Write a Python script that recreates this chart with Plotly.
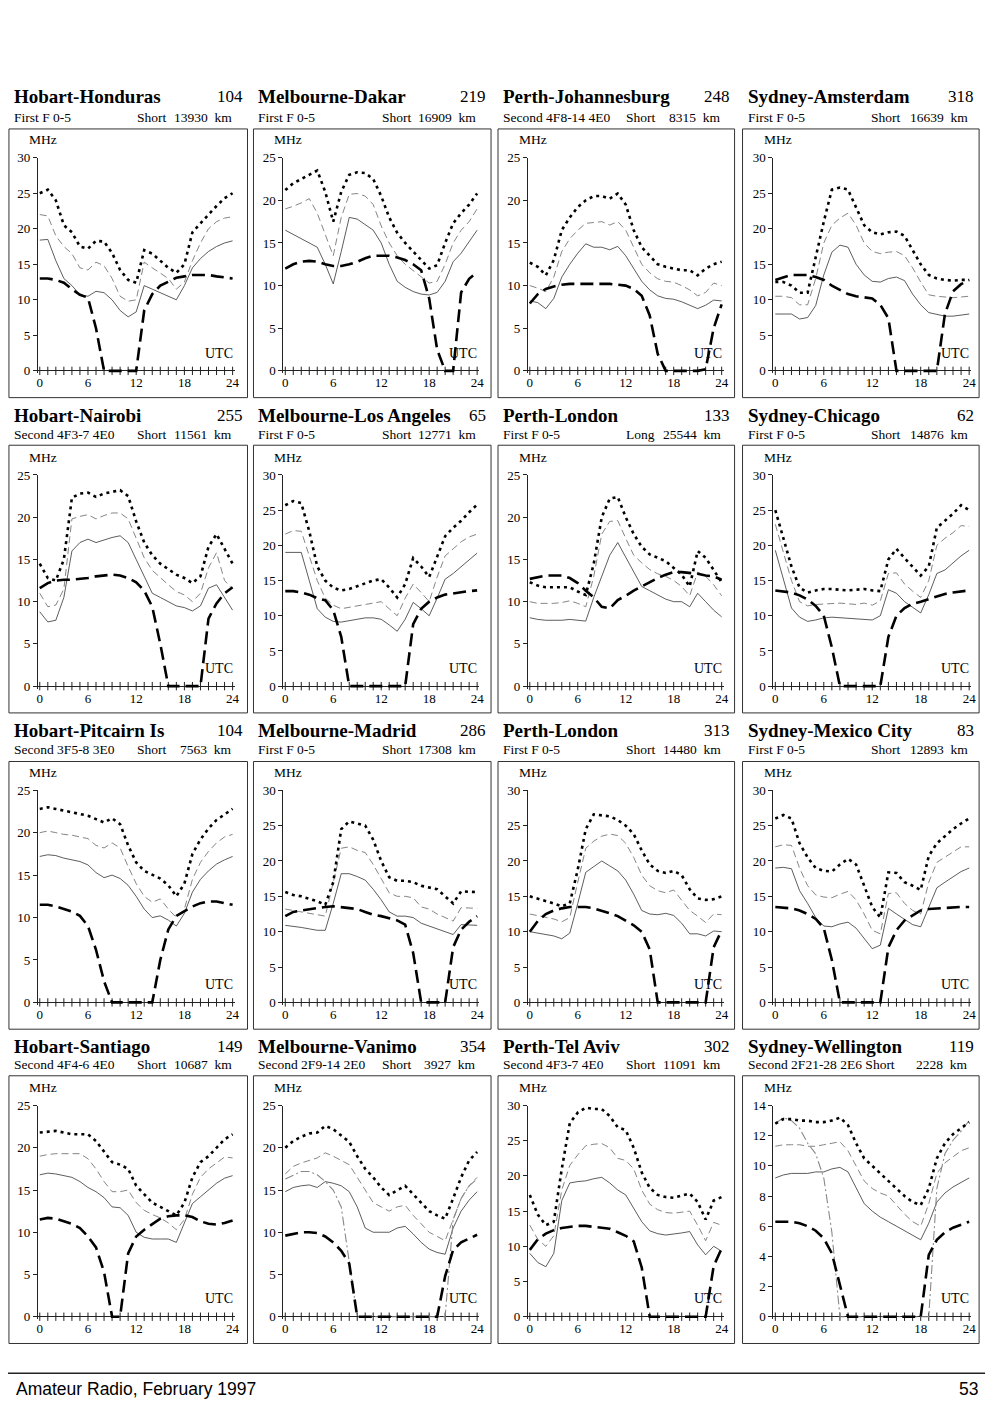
import plotly.graph_objects as go

W, H = 1000, 1405

hours = list(range(25))

# panel headings, row by row
titles = ["Hobart-Honduras", "Melbourne-Dakar", "Perth-Johannesburg", "Sydney-Amsterdam",
          "Hobart-Nairobi", "Melbourne-Los Angeles", "Perth-London", "Sydney-Chicago",
          "Hobart-Pitcairn Is", "Melbourne-Madrid", "Perth-London", "Sydney-Mexico City",
          "Hobart-Santiago", "Melbourne-Vanimo", "Perth-Tel Aviv", "Sydney-Wellington"]
bearings = [104, 219, 248, 318, 255, 65, 133, 62, 104, 286, 313, 83, 149, 354, 302, 119]
modes = ["First F 0-5", "First F 0-5", "Second 4F8-14 4E0", "First F 0-5",
         "Second 4F3-7 4E0", "First F 0-5", "First F 0-5", "First F 0-5",
         "Second 3F5-8 3E0", "First F 0-5", "First F 0-5", "First F 0-5",
         "Second 4F4-6 4E0", "Second 2F9-14 2E0", "Second 4F3-7 4E0", "Second 2F21-28 2E6"]
paths = ["Short", "Short", "Short", "Short", "Short", "Short", "Long", "Short",
         "Short", "Short", "Short", "Short", "Short", "Short", "Short", "Short"]
dists = [13930, 16909, 8315, 16639, 11561, 12771, 25544, 14876,
         7563, 17308, 14480, 12893, 10687, 3927, 11091, 2228]
ymax = [30, 25, 25, 30, 25, 30, 25, 30, 25, 30, 30, 30, 25, 25, 30, 14]
ystep = [5, 5, 5, 5, 5, 5, 5, 5, 5, 5, 5, 5, 5, 5, 5, 2]

# dotted curve (highest frequency), MHz at 0..24 UTC
upper = [
    [25, 25.5, 24, 20.5, 19.5, 17.5, 17.2, 18.3, 18.2, 16.6, 14.2, 12.8, 12.4, 17, 16.5, 15.5, 14.5, 13.8, 15, 19.5, 20.8, 22, 23.2, 24.3, 25],
    [21.2, 22, 22.5, 23, 23.5, 21, 17.5, 21, 23, 23.3, 23.2, 22.5, 20.5, 18, 16.2, 15, 14, 13, 12, 12.4, 15, 17.3, 18.5, 19.5, 20.8],
    [12.7, 12.2, 11.2, 13, 16.5, 18, 19.2, 20, 20.5, 20.5, 20.2, 20.8, 19.5, 16.5, 14.5, 13.5, 12.5, 12.2, 12, 11.8, 11.8, 11.2, 12, 12.5, 12.8],
    [12.5, 12.5, 12, 11, 11, 16, 21, 25.5, 25.8, 25.5, 23, 20.5, 19.5, 19.2, 19.5, 19.6, 19, 17, 15, 13.5, 13, 12.8, 12.7, 12.8, 12.8],
    [14.5, 12.8, 12.5, 15, 22.3, 22.8, 22.9, 22.4, 22.8, 23, 23.2, 22.5, 19.5, 17, 15.5, 14.5, 13.8, 13.2, 12.8, 12.2, 13, 16.5, 18, 16.2, 14.5],
    [25.7, 26.3, 26, 22, 17, 15, 14, 13.6, 13.8, 14.2, 14.5, 15, 15.2, 14, 12.6, 14.5, 18.2, 17, 15.5, 18.5, 21.3, 22.5, 23.5, 24.7, 25.8],
    [12.3, 11.9, 11.7, 11.7, 11.7, 11.7, 11.2, 10.8, 14.5, 20, 22.2, 22.4, 20, 18, 16.5, 15.6, 15.2, 14.8, 14, 13.2, 11.8, 16, 15.2, 13.8, 12.3],
    [25, 21, 17, 14, 13.3, 13.6, 13.8, 13.8, 13.7, 13.6, 13.7, 13.8, 13.6, 13.5, 18, 19.5, 18.2, 17, 15.7, 17, 22.5, 23.5, 24.5, 25.7, 25],
    [22.8, 23, 22.8, 22.6, 22.4, 22.2, 22, 21.6, 21.2, 21.7, 21, 18.5, 16.5, 15.5, 15, 14.6, 13.8, 12.5, 14, 17.5, 19.2, 20.5, 21.5, 22.2, 22.8],
    [15.6, 15.2, 15, 14.7, 14.3, 13.8, 17, 24.5, 25.6, 25.3, 25, 23, 20, 17.7, 17.2, 17.2, 17, 16.5, 16.2, 16, 15, 14, 15.7, 15.7, 15.6],
    [15, 14.7, 14.3, 14, 13.6, 14, 18.8, 24.5, 26.6, 26.5, 26.3, 25.8, 25, 23.8, 21.5, 19.5, 18.6, 18.3, 18.6, 18, 16, 14.7, 14.5, 14.6, 15],
    [26, 26.5, 26, 22.5, 20.5, 19, 18.6, 18.5, 19.5, 20.3, 19.5, 16.5, 13.5, 12, 18.4, 18.3, 17, 16.5, 15.9, 20.7, 22.5, 23.5, 24.5, 25.3, 26],
    [21.8, 21.9, 22, 21.8, 21.6, 21.6, 21.6, 20.8, 19.5, 18.3, 18, 17.5, 15.5, 14.5, 13.5, 13, 12.5, 12, 13.5, 16.5, 18.3, 19, 20, 21, 21.6],
    [20, 20.8, 21.3, 21.7, 21.8, 22.6, 22.2, 21.5, 20.7, 19, 17.5, 16.5, 15.3, 14.4, 15, 15.5, 14.5, 13.5, 12.5, 12, 11.6, 14, 16.5, 18.5, 19.5],
    [17.3, 14.5, 13, 13.5, 21, 27.5, 29, 29.7, 29.5, 29.5, 28.5, 26.9, 26.5, 24, 20.5, 18.3, 17.3, 17, 16.9, 17.2, 17.5, 16.3, 13.8, 16.5, 17],
    [12.8, 13.1, 13.1, 13, 13, 12.9, 12.9, 13, 13.2, 12.7, 11.5, 10.5, 10, 9.5, 9, 8.5, 8, 7.6, 7.4, 8.5, 10.5, 11.5, 12.1, 12.5, 12.9],
]

# thin dashed curve
median = [
    [22, 21.8, 19, 17.5, 16.5, 14.5, 14.2, 15.3, 14.8, 13, 10.5, 9.8, 10, 15.3, 14.5, 13.8, 13, 11.5, 12.5, 15.5, 18, 20, 21, 21.5, 21.7],
    [19, 19.3, 19.7, 20.2, 18.5, 16, 13.5, 18, 20.7, 20.8, 20.5, 19.5, 17, 15, 13.5, 12.5, 11.8, 11, 10.3, 10.5, 12.5, 15, 16.5, 17.5, 19],
    [10, 9.7, 9.3, 11, 14, 15.5, 16.5, 17.3, 17.4, 17.5, 17.1, 17.5, 16.5, 14.5, 12.5, 11.5, 10.8, 10.5, 10.4, 10, 9.5, 8.8, 9.2, 10.3, 10],
    [10.5, 10.5, 10.3, 9.3, 9.3, 13, 18, 20.5, 21.5, 22.2, 20.5, 18, 16.8, 16.5, 16.7, 16.8, 16.2, 14.5, 12.5, 10.7, 10.5, 10.4, 10.3, 10.4, 10.5],
    [11, 9.4, 9.6, 11.5, 19.8, 20.1, 20.3, 19.8, 20.2, 20.5, 20.5, 19.8, 17.5, 15.2, 13.7, 12.8, 12, 11.2, 10.8, 10, 11, 14, 15.8, 12.5, 11.5],
    [21.6, 22.1, 22, 18.5, 15, 12.5, 11.5, 11, 11.2, 11.3, 11.5, 11.8, 12, 11, 10, 12.5, 14.5, 13.3, 12, 15.5, 18.5, 19.5, 20.5, 21.2, 21.6],
    [10, 9.8, 9.8, 9.8, 9.9, 10.1, 9.8, 9.4, 13, 18, 19.5, 19.6, 17.5, 15.5, 14.6, 13.8, 13.3, 13, 12.5, 11.8, 10.7, 13.5, 13, 12, 10.7],
    [23, 19, 15, 12, 11.4, 11.6, 11.7, 11.8, 11.8, 11.7, 11.6, 11.8, 11.5, 12.1, 16, 16.1, 14.5, 13.5, 12.6, 15, 20, 21, 21.8, 22.8, 22.7],
    [20, 20.2, 20, 19.8, 19.7, 19.5, 19.3, 18.5, 18.2, 18.8, 18.2, 16, 14, 12.5, 11.8, 12.2, 11, 10, 11, 14.5, 16.5, 17.8, 18.8, 19.5, 19.8],
    [13.2, 13, 12.8, 12.6, 12.5, 12.2, 17, 21.8, 22, 21.5, 21.2, 19.5, 17.5, 15.5, 15, 15, 14.8, 13.5, 13.2, 12.5, 12, 11.5, 13.4, 13.3, 13.3],
    [12.5, 12.3, 12.1, 11.8, 11.4, 12, 17, 21.8, 22.8, 23.5, 23.8, 23.6, 22.5, 20.5, 18, 16.5, 15.8, 15.5, 15.9, 14.5, 13, 12.2, 11.3, 12.5, 12.4],
    [22, 22.3, 22.2, 19, 16.5, 15.2, 14.9, 14.8, 15.3, 15.7, 14.5, 12.5, 10.2, 9.7, 15.4, 15.5, 14, 13, 12.5, 17, 19.8, 20.5, 21.2, 22, 22],
    [19, 19.2, 19.3, 19.3, 19.3, 19.3, 18.7, 17.5, 16, 14.8, 14.8, 15, 13.5, 12.6, 12.1, 11.7, 11.1, 10.3, 11.5, 14.5, 16.5, 17.5, 18.2, 18.9, 18.8],
    [16.9, 17.8, 18.2, 18.5, 18.8, 19.4, 19, 18.5, 18, 16.5, 15, 13.5, 13, 12.5, 13, 13.2, 12, 11, 10, 9.5, 9, 11.5, 14, 15.5, 16.5],
    [13, 11, 10, 11.5, 18, 21.5, 23, 24.3, 24.5, 24.6, 24, 22.5, 22.2, 21, 18, 16, 15.2, 14.8, 14.7, 14.8, 15, 13, 10.8, 13.4, 13],
    [11.3, 11.4, 11.4, 11.4, 11.3, 11.3, 11.4, 11.5, 11.6, 11, 10, 9, 8.5, 8.2, 8, 7.4, 6.8, 6.3, 6, 7.5, 9.5, 10.2, 10.6, 11, 11.2],
]

# thin solid curve
lower = [
    [18.4, 18.5, 15.5, 13, 12, 10.7, 10.5, 11.2, 11, 10, 8.5, 7.6, 8.3, 12, 11.5, 11, 10.5, 10, 12, 14.5, 15.8, 16.8, 17.5, 18, 18.3],
    [16.5, 16, 15.5, 15, 14.5, 12.5, 10.2, 14, 18, 17.8, 17.2, 16.5, 15, 12.5, 10.5, 9.8, 9.3, 9, 8.9, 9.2, 10.5, 12.8, 13.8, 15.2, 16.5],
    [8.2, 8, 7.3, 8.5, 11, 12.5, 13.8, 14.9, 14.5, 14.5, 14.2, 14.6, 13.5, 12, 10.5, 9.5, 8.8, 8.5, 8.4, 8.1, 7.7, 7.3, 7.7, 8.3, 8.2],
    [8, 8, 8, 7.3, 7.5, 9.2, 13.5, 16.7, 17.7, 17.4, 15, 13.5, 12.6, 12.5, 13, 13.2, 12.7, 10.8, 9.3, 8.2, 7.9, 7.7, 7.7, 7.8, 8],
    [8.8, 7.6, 7.8, 10.5, 16, 17, 17.4, 17, 17.3, 17.6, 17.8, 17, 15, 13, 11, 10.5, 10, 9.5, 9.3, 8.9, 9.5, 11.6, 12, 10.5, 9],
    [19, 19, 19, 15, 11, 9.8, 9.2, 9.1, 9.3, 9.5, 9.7, 9.7, 9.5, 8.7, 7.8, 9.5, 11.9, 11, 10, 12.5, 15.2, 16, 17, 18, 18.9],
    [8.1, 7.9, 7.8, 7.8, 7.8, 7.9, 7.8, 7.7, 10.5, 13, 15.5, 17, 15.3, 13.5, 11.8, 11.3, 10.8, 10.3, 10, 10, 9.4, 11, 10, 9, 8.2],
    [19.3, 15, 11.1, 9.8, 9.2, 9.4, 9.7, 9.8, 9.7, 9.6, 9.6, 9.5, 9.4, 10, 13.7, 13.2, 12, 11.2, 10.4, 13, 16, 16.5, 17.5, 18.5, 19.3],
    [17.2, 17.4, 17.3, 17, 16.8, 16.6, 16.2, 15.3, 14.7, 15, 14.6, 13.8, 12.5, 11, 10, 10.2, 9.7, 9, 10.5, 13, 14.5, 15.5, 16.3, 16.8, 17.2],
    [10.9, 10.8, 10.6, 10.4, 10.2, 10.2, 14, 18.2, 18.2, 17.8, 17.3, 16, 14.5, 12.8, 12.2, 12.2, 12, 11.2, 10.8, 10.3, 10, 9.6, 11, 11, 10.9],
    [10, 9.8, 9.6, 9.4, 9, 9.8, 14, 18.4, 19.2, 20, 19.3, 18.6, 17.3, 15.3, 13, 12.5, 12.4, 12.6, 12.3, 11.2, 9.7, 9.7, 9.4, 10.1, 10],
    [19, 19.1, 18.9, 15.8, 14, 12, 10.8, 10.7, 11.1, 11.35, 10.5, 9, 7.6, 8.1, 13.3, 12.5, 11.8, 11, 10.7, 13.5, 16.2, 17, 17.8, 18.5, 19],
    [16.8, 17, 16.9, 16.7, 16.5, 16, 15.3, 14.8, 14.1, 13, 12.9, 12, 10, 9.4, 9.2, 9.2, 9.2, 8.8, 11, 13.4, 14.2, 15, 15.8, 16.4, 16.7],
    [14.8, 15.3, 15.5, 15.6, 15.3, 16, 15.8, 15.5, 14.8, 13, 10.5, 10, 10, 10, 10.5, 10.7, 9.8, 8.8, 8, 7.6, 7.4, 10.5, 12.5, 13.8, 14.8],
    [9, 7.7, 7.1, 9, 16.5, 19, 19.2, 19.3, 19.6, 19.8, 19, 18, 17.3, 15.5, 13.5, 12.2, 11.8, 11.6, 11.7, 11.9, 12.1, 10.2, 8.8, 10, 9.3],
    [9.2, 9.4, 9.5, 9.5, 9.5, 9.6, 9.6, 9.8, 9.9, 9.6, 8.5, 7.5, 7, 6.6, 6.3, 6, 5.7, 5.4, 5.1, 6.2, 7.6, 8.2, 8.6, 8.9, 9.2],
]

# heavy dashed curve (lowest usable frequency)
luf = [
    [13, 13, 12.8, 12.4, 11.5, 10.7, 10.3, 6, 0, 0, 0, 0, 0, 8.5, 10.8, 12, 12.6, 13.1, 13.3, 13.5, 13.5, 13.5, 13.3, 13.2, 13],
    [12, 12.5, 12.8, 12.9, 12.8, 12.5, 12.3, 12.3, 12.5, 12.8, 13.2, 13.5, 13.5, 13.5, 13.3, 13, 12.5, 11.8, 8.5, 2.5, 0, 0, 9.2, 10.8, 11.6],
    [7.9, 9, 9.6, 9.9, 10.1, 10.2, 10.2, 10.2, 10.2, 10.2, 10.2, 10.1, 10, 9.6, 8.8, 6.5, 2, 0, 0, 0, 0, 0, 0.2, 5, 7.8],
    [12.8, 13.2, 13.5, 13.5, 13.5, 13.2, 12.8, 12, 11.4, 10.8, 10.5, 10.4, 10.2, 9.3, 7.4, 0, 0, 0, 0, 0, 0, 8, 11.2, 12.2, 12.8],
    [11.6, 12.2, 12.5, 12.6, 12.6, 12.7, 12.8, 13, 13.1, 13.2, 13.1, 12.8, 12.3, 11.3, 9.4, 5, 0, 0, 0, 0, 0, 8, 9.8, 11, 11.7],
    [13.5, 13.5, 13.3, 13, 12.5, 12.2, 10.8, 7, 0, 0, 0, 0, 0, 0, 0, 0, 8.8, 11, 12, 12.6, 13, 13.2, 13.4, 13.5, 13.6],
    [12.7, 12.9, 13.1, 13.1, 13.1, 12.8, 12.2, 11.3, 10.5, 9.4, 9.2, 10.2, 10.7, 11.3, 11.8, 12.4, 12.8, 13.2, 13.5, 13.5, 13.4, 13.3, 13.1, 13, 12.6],
    [13.6, 13.5, 13.3, 12.9, 12.3, 11.4, 10, 5.5, 0, 0, 0, 0, 0, 0, 7, 10, 11.1, 11.7, 12, 12.4, 12.8, 13.1, 13.3, 13.5, 13.6],
    [11.5, 11.5, 11.3, 11, 10.7, 10.2, 9, 6.2, 2.5, 0, 0, 0, 0, 0, 0, 5, 8.6, 10.2, 10.8, 11.3, 11.7, 11.9, 11.9, 11.7, 11.5],
    [12.2, 12.8, 13, 13.2, 13.4, 13.5, 13.6, 13.5, 13.3, 13.2, 12.8, 12.4, 12.2, 11.9, 11.6, 11, 7, 0, 0, 0, 0, 7.8, 10.3, 11.4, 12.2],
    [10, 11.5, 12.5, 13, 13.3, 13.5, 13.5, 13.5, 13.3, 13, 12.6, 12.2, 11.5, 10.9, 10, 7.5, 0, 0, 0, 0, 0, 0, 0, 7.8, 10.2],
    [13.5, 13.4, 13.3, 13, 12.5, 11.8, 10.5, 6, 0, 0, 0, 0, 0, 0, 7.8, 10.2, 11.6, 12.3, 13, 13.2, 13.3, 13.4, 13.5, 13.5, 13.5],
    [11.5, 11.7, 11.6, 11.3, 11, 10.5, 9.5, 8.2, 5.3, 0, 0, 7.5, 9.5, 10.3, 11, 11.6, 11.9, 12, 12, 11.8, 11.3, 11, 10.9, 11.1, 11.4],
    [9.6, 9.8, 10, 10, 9.9, 9.5, 8.8, 7.8, 6.3, 0, 0, 0, 0, 0, 0, 0, 0, 0, 0, 0, 4.8, 7.9, 8.8, 9.3, 9.7],
    [9.5, 11, 11.8, 12.3, 12.6, 12.8, 12.9, 12.9, 12.8, 12.7, 12.5, 12, 11.5, 10.7, 7, 0, 0, 0, 0, 0, 0, 0, 0, 7.2, 9.7],
    [6.3, 6.3, 6.3, 6.2, 6, 5.7, 5.2, 4.2, 2, 0, 0, 0, 0, 0, 0, 0, 0, 0, 0, 4.1, 5.1, 5.6, 5.9, 6.1, 6.3],
]

# grey dash-dot curve, only on the two short paths
vanimo_e = [16.3, 16.8, 17.2, 17.2, 16.8, 16, 15, 13, 6.5, 0, 0, 0, 0, 0, 0, 0, 0, 0, 0, 0, 0, 11.5, 14, 15.5, 16.3]
wellington_e = [12.8, 13.2, 13, 12.5, 11.5, 10.8, 9.2, 5.6, 0, 0, 0, 0, 0, 0, 0, 0, 0, 0, 0, 0, 8.5, 10.8, 11.7, 12.3, 13]
extra = {13: vanimo_e, 15: wellington_e}

# page geometry (pixels)
x0_px = [39, 286, 532, 779]
x24_px = [233, 479, 725, 974]
box_l = [8, 254, 500, 746]
box_r = [248, 493, 738, 984]
ytop_px = [152, 472, 790, 1108]
y0_px = [367, 685, 1004, 1321]
box_t = [123, 442, 761, 1078]
box_b = [394, 712, 1031, 1348]
title_y = [90, 412, 730, 1048]
sub_y = [111, 431, 749, 1067]

SERIF = "Liberation Serif, Times New Roman, serif"


def px(x):
    return x / W


def py(y):
    return 1 - y / H


fig = go.Figure()
layout = dict(width=W, height=H, margin=dict(l=0, r=0, t=0, b=0),
              paper_bgcolor="white", plot_bgcolor="white", showlegend=False,
              autosize=False)
shapes = []
ann = []

for i in range(16):
    r, c = divmod(i, 4)
    sfx = "" if i == 0 else str(i + 1)
    xa, ya = "x" + sfx, "y" + sfx

    xpad = 0.25
    hpx = (x24_px[c] - x0_px[c]) / 24
    dom_x = [px(x0_px[c] - xpad * hpx), px(x24_px[c] + xpad * hpx)]
    ypad = ymax[i] * 0.012
    vpx = (y0_px[r] - ytop_px[r]) / ymax[i]
    dom_y = [py(y0_px[r] + ypad * vpx), py(ytop_px[r])]

    layout["xaxis" + sfx] = dict(
        domain=dom_x, range=[-xpad, 24 + xpad], anchor=ya,
        tickvals=[0, 6, 12, 18, 24], ticks="",
        showline=False, showgrid=False, zeroline=False,
        tickfont=dict(family=SERIF, size=13, color="black"), fixedrange=True)
    layout["yaxis" + sfx] = dict(
        domain=dom_y, range=[-ypad, ymax[i]], anchor=xa,
        tickvals=list(range(0, ymax[i] + 1, ystep[i])), ticks="outside", ticklen=4,
        tickwidth=1, tickcolor="#222", showline=True, linecolor="#222", linewidth=1,
        showgrid=False, zeroline=True, zerolinecolor="#222", zerolinewidth=1,
        tickfont=dict(family=SERIF, size=13, color="black"), fixedrange=True)

    # hour crosses along the time axis
    fig.add_trace(go.Scatter(x=hours, y=[0] * len(hours), xaxis=xa, yaxis=ya,
                             mode="markers", cliponaxis=False, hoverinfo="skip",
                             marker=dict(symbol="line-ns", size=6,
                                         line=dict(width=1, color="#222"))))

    fig.add_trace(go.Scatter(x=hours, y=lower[i], xaxis=xa, yaxis=ya, mode="lines",
                             line=dict(color="#333", width=0.8)))
    fig.add_trace(go.Scatter(x=hours, y=median[i], xaxis=xa, yaxis=ya, mode="lines",
                             line=dict(color="#777", width=0.9, dash="7px,4px")))
    if i in extra:
        fig.add_trace(go.Scatter(x=hours, y=extra[i], xaxis=xa, yaxis=ya, mode="lines",
                                 line=dict(color="#888", width=1.1,
                                           dash="9px,3px,2px,3px")))
    fig.add_trace(go.Scatter(x=hours, y=upper[i], xaxis=xa, yaxis=ya, mode="lines",
                             line=dict(color="black", width=2.6, dash="3px,4px")))
    fig.add_trace(go.Scatter(x=hours, y=luf[i], xaxis=xa, yaxis=ya, mode="lines",
                             line=dict(color="black", width=2.6, dash="13px,6px")))

    shapes.append(dict(type="rect", xref="paper", yref="paper",
                       x0=px(box_l[c]), x1=px(box_r[c]), y0=py(box_b[r]), y1=py(box_t[r]),
                       line=dict(color="#333", width=1)))

    tl = box_l[c] + 3
    ann.append(dict(text="<b>%s</b>" % titles[i], x=px(tl), y=py(title_y[r]),
                    xanchor="left", yanchor="middle",
                    font=dict(family=SERIF, size=19, color="black")))
    ann.append(dict(text=str(bearings[i]), x=px(box_r[c] - 3), y=py(title_y[r]),
                    xanchor="right", yanchor="middle",
                    font=dict(family=SERIF, size=17, color="black")))
    if len(modes[i]) > 17:
        # long mode string: the path word simply follows it
        ann.append(dict(text=modes[i] + " " + paths[i], x=px(tl), y=py(sub_y[r]),
                        xanchor="left", yanchor="middle",
                        font=dict(family=SERIF, size=13.5, color="black")))
    else:
        ann.append(dict(text=modes[i], x=px(tl), y=py(sub_y[r]),
                        xanchor="left", yanchor="middle",
                        font=dict(family=SERIF, size=13.5, color="black")))
        ann.append(dict(text=paths[i], x=px(tl + 124), y=py(sub_y[r]),
                        xanchor="left", yanchor="middle",
                        font=dict(family=SERIF, size=13.5, color="black")))
    ann.append(dict(text="%d\u00a0 km" % dists[i], x=px(x24_px[c] + 1), y=py(sub_y[r]),
                    xanchor="right", yanchor="middle",
                    font=dict(family=SERIF, size=13.5, color="black")))
    ann.append(dict(text="MHz", x=px(x0_px[c] + 3), y=py(ytop_px[r] - 18),
                    xanchor="center", yanchor="middle",
                    font=dict(family=SERIF, size=13.5, color="black")))
    ann.append(dict(text="UTC", x=px(x24_px[c] + 2), y=py(y0_px[r] - 18),
                    xanchor="right", yanchor="middle",
                    font=dict(family=SERIF, size=14, color="black")))

# page footer
shapes.append(dict(type="line", xref="paper", yref="paper",
                   x0=px(7), x1=px(990), y0=py(1378), y1=py(1378),
                   line=dict(color="#222", width=1.5)))
FOOT = "Liberation Sans, Arial, sans-serif"
ann.append(dict(text="Amateur Radio, February 1997", x=px(13), y=py(1394),
                xanchor="left", yanchor="middle",
                font=dict(family=FOOT, size=17.5, color="black")))
ann.append(dict(text="53", x=px(985), y=py(1394), xanchor="right", yanchor="middle",
                font=dict(family=FOOT, size=17.5, color="black")))

for a in ann:
    a.update(xref="paper", yref="paper", showarrow=False)

layout["shapes"] = shapes
layout["annotations"] = ann
fig.update_layout(**layout)

# pin the figure to the window origin so nothing scrolls or shifts
pin = ("document.documentElement.style.overflow='hidden';"
       "document.body.style.margin='0px';document.body.style.overflow='hidden';"
       "var g=document.getElementById('{plot_id}');"
       "g.style.position='absolute';g.style.left='0px';g.style.top='0px';")
fig.write_html("out.html", post_script=pin, config={"displayModeBar": False})
